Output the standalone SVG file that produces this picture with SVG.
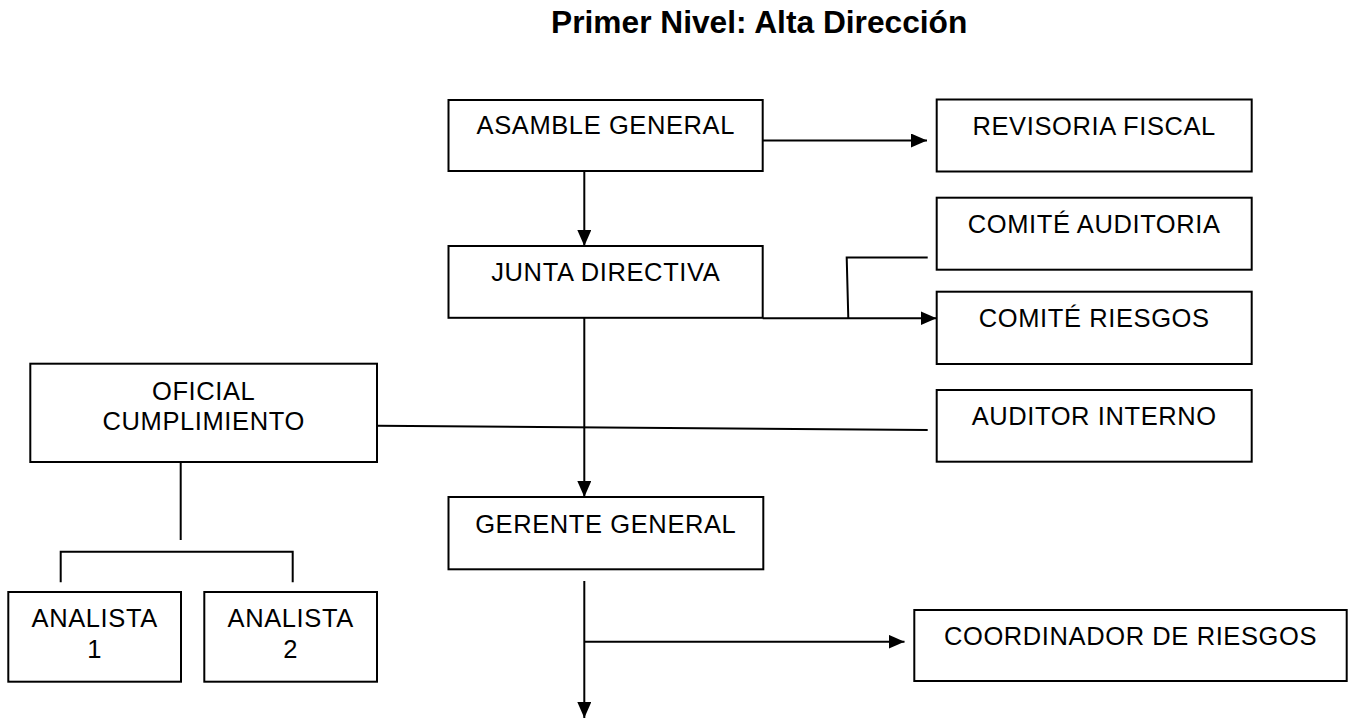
<svg xmlns="http://www.w3.org/2000/svg" width="1352" height="719" viewBox="0 0 1352 719">
<style>
.box{fill:#fff;stroke:#000;stroke-width:2}
.lbl{font-family:"Liberation Sans",Arial,sans-serif;font-size:25.5px;letter-spacing:0.6px;fill:#000;text-anchor:middle}
.title{font-family:"Liberation Sans",Arial,sans-serif;font-size:31.7px;font-weight:bold;fill:#000;text-anchor:middle}
.ln{fill:none;stroke:#000;stroke-width:2}
.arr{fill:none;stroke:#000;stroke-width:2;marker-end:url(#ah)}
</style>
<defs>
<marker id="ah" markerUnits="userSpaceOnUse" markerWidth="16" markerHeight="14" refX="16" refY="7" orient="auto">
<path d="M0,0 L16,7 L0,14 Z" fill="#000"/>
</marker>
</defs>
<rect width="1352" height="719" fill="#fff"/>
<text class="title" x="759.2" y="32.7">Primer Nivel: Alta Dirección</text>

<g id="connectors">
<line class="arr" x1="762.7" y1="140.5" x2="927" y2="140.5"/>
<line class="arr" x1="584.3" y1="171" x2="584.3" y2="246"/>
<line class="arr" x1="762.7" y1="318.2" x2="936.5" y2="318.2"/>
<polyline class="ln" points="848.3,318.2 846.7,257.5 927.7,257.5"/>
<line class="arr" x1="584.3" y1="318" x2="584.3" y2="497"/>
<line class="ln" x1="377" y1="425.8" x2="927.7" y2="430"/>
<line class="ln" x1="180.7" y1="462" x2="180.7" y2="540"/>
<polyline class="ln" points="60.7,582.3 60.7,551.7 292.7,551.7 292.7,582.3"/>
<line class="arr" x1="584.3" y1="581" x2="584.3" y2="718"/>
<line class="arr" x1="584.3" y1="641.7" x2="904.5" y2="641.7"/>
</g>

<g id="asamble-general"><rect class="box" x="448.5" y="100" width="314.2" height="71"/><text class="lbl" x="605.8" y="134">ASAMBLE GENERAL</text></g>
<g id="revisoria-fiscal"><rect class="box" x="936.7" y="99.5" width="315" height="72"/><text class="lbl" x="1094.2" y="135">REVISORIA FISCAL</text></g>
<g id="junta-directiva"><rect class="box" x="448.5" y="246" width="314.2" height="71.8"/><text class="lbl" x="605.8" y="280.7">JUNTA DIRECTIVA</text></g>
<g id="comite-auditoria"><rect class="box" x="936.7" y="197.7" width="315" height="72"/><text class="lbl" x="1094.2" y="233.3">COMITÉ AUDITORIA</text></g>
<g id="comite-riesgos"><rect class="box" x="936.7" y="291.7" width="315" height="72.3"/><text class="lbl" x="1094.2" y="327.3">COMITÉ RIESGOS</text></g>
<g id="oficial-cumplimiento"><rect class="box" x="30.3" y="363.7" width="346.7" height="98.3"/><text class="lbl" x="203.7" y="400">OFICIAL</text><text class="lbl" x="203.7" y="430">CUMPLIMIENTO</text></g>
<g id="auditor-interno"><rect class="box" x="936.7" y="390" width="315" height="71.7"/><text class="lbl" x="1094.2" y="425">AUDITOR INTERNO</text></g>
<g id="gerente-general"><rect class="box" x="448.5" y="497" width="314.8" height="72.3"/><text class="lbl" x="605.8" y="533.3">GERENTE GENERAL</text></g>
<g id="analista-1"><rect class="box" x="8.3" y="592" width="172.7" height="89.7"/><text class="lbl" x="94.7" y="626.7">ANALISTA</text><text class="lbl" x="94.7" y="657.5">1</text></g>
<g id="analista-2"><rect class="box" x="204.3" y="592" width="172.7" height="89.7"/><text class="lbl" x="290.7" y="626.7">ANALISTA</text><text class="lbl" x="290.7" y="657.5">2</text></g>
<g id="coordinador-riesgos"><rect class="box" x="914.3" y="610" width="432.4" height="71"/><text class="lbl" x="1130.5" y="645">COORDINADOR DE RIESGOS</text></g>
</svg>
